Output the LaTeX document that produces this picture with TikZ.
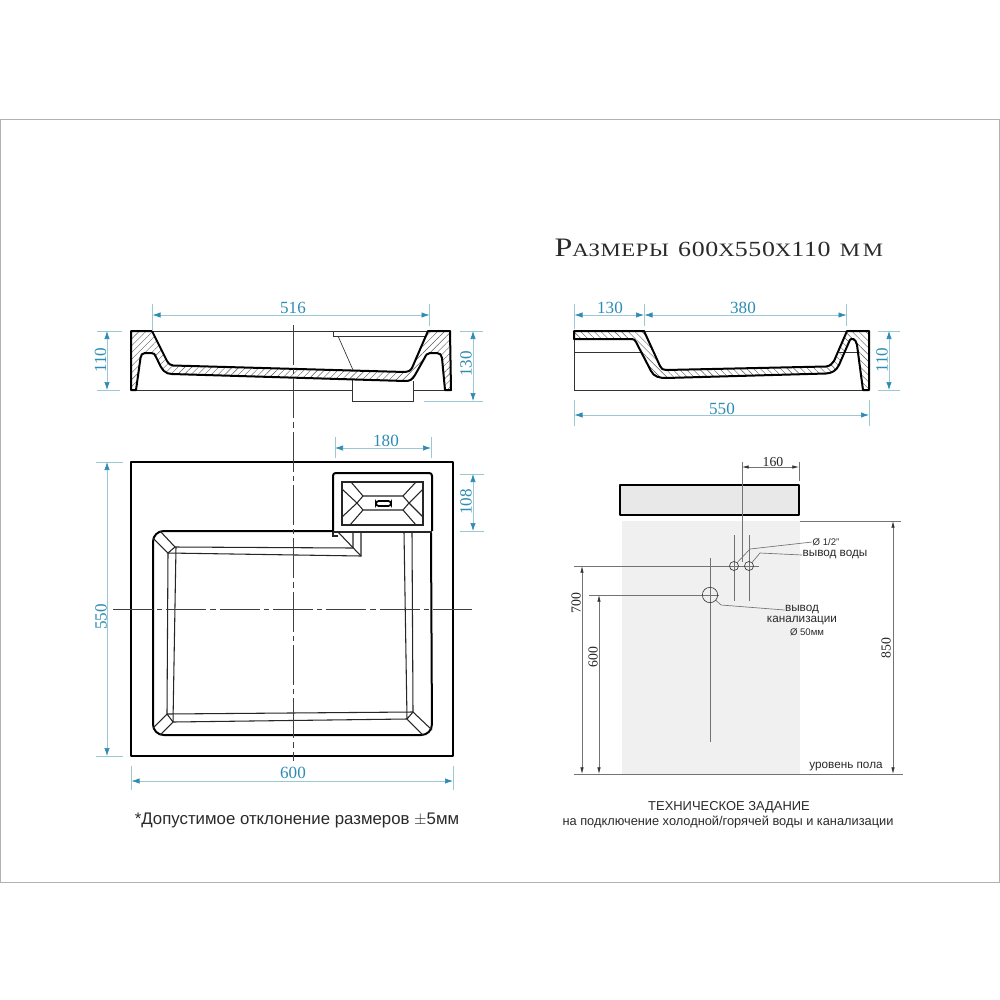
\documentclass[tikz,border=0pt]{standalone}
\usepackage{fontspec}
\setmainfont{Liberation Sans}
\newfontfamily\dimfont{Liberation Serif}
\newfontfamily\titlefont[LetterSpace=3,FakeStretch=1.2]{Liberation Serif}
\usetikzlibrary{arrows.meta,patterns.meta}
\definecolor{dimblue}{HTML}{2E8CB4}
\definecolor{dimline}{HTML}{9CC8D4}
\definecolor{wallgray}{HTML}{F0F0F0}
\definecolor{slabgray}{HTML}{E8E8E8}
\definecolor{textgray}{HTML}{2A2A2A}
\newcommand{\ttlcap}[1]{{\fontsize{20}{20}\selectfont #1}}
\newcommand{\ttlnum}[1]{{\fontsize{16.2}{20}\selectfont #1}}
\newcommand{\ttlsmall}[1]{{\fontsize{14.2}{20}\selectfont #1}}
\tikzset{every picture/.style={line width=0.75pt},
  heavy/.style={line width=1.5pt,black,line join=round},
  medium/.style={line width=0.8pt,black!85},
  thinline/.style={line width=0.5pt,black!80},
  axisline/.style={line width=0.5pt,black!75,dash pattern=on 30pt off 3pt on 4pt off 3pt},
  hatchright/.style={pattern={Lines[angle=45,distance=3.6pt,line width=0.3pt]},pattern color=black!65},
  hatchleft/.style={pattern={Lines[angle=-45,distance=3.6pt,line width=0.3pt]},pattern color=black!65},
  dimarrow/.style={line width=0.5pt,dimline,{Latex[length=6pt,width=4pt,color=dimblue]}-{Latex[length=6pt,width=4pt,color=dimblue]}},
  extline/.style={line width=0.5pt,dimline},
  dimlabel/.style={text=dimblue,font=\dimfont\fontsize{12.8}{14}\selectfont,inner sep=0pt},
  grayarrow/.style={line width=0.5pt,black!55,{Latex[length=5pt,width=2.6pt,color=black!80]}-{Latex[length=5pt,width=2.6pt,color=black!80]}},
  grayline/.style={line width=0.5pt,black!55},
  graylabel/.style={font=\dimfont\fontsize{10.3}{11}\selectfont,text=black!85,inner sep=0pt},
  note/.style={text=textgray,inner sep=0pt,align=center}}

\begin{document}
\begin{tikzpicture}[x=0.75pt,y=0.75pt,yscale=-1,xscale=1]
\useasboundingbox (0,0) rectangle (1000,1000);
\fill[white] (0,0) rectangle (1000,1000);
% frame
\draw[black!30,line width=0.75pt] (0.5,119.5) rectangle (999.5,882);

% title
\node[note,anchor=base west,font=\titlefont] (title) at (554,256) {\ttlcap{Р}\ttlsmall{АЗМЕРЫ}\hspace{7pt}\ttlnum{600}\ttlsmall{Х}\ttlnum{550}\ttlsmall{Х}\ttlnum{110}\hspace{7pt}\ttlsmall{М}\hspace{2pt}\ttlsmall{М}};

% left section
\draw[thinline] (152,331) -- (428,331);
\draw[thinline] (136,390) -- (352,390) (413,390) -- (445,390);
\draw[thinline] (352,380) -- (352,401) -- (413,401) -- (413,381);
\draw[thinline] (333,331) -- (333,336) -- (425,336);
\draw[thinline] (338,336) -- (353,370);
\draw[heavy,hatchright] (131,331) -- (152,331) -- (167,361) .. controls (169,364) and (170,365) .. (173,365.5) -- (405,372) .. controls (408,372) and (410,371) .. (412,368) -- (428,331) -- (450,331) -- (451,390) -- (445,390) -- (442,358) .. controls (441.5,355) and (440,353) .. (437,353) -- (430,353) .. controls (427,353) and (426,355) .. (424,359) -- (415,375) .. controls (412,380) and (410,381) .. (405,381) -- (172,374) .. controls (165,374) and (162,370) .. (158,361) -- (156,357) .. controls (155,354) and (154,353) .. (151,353) -- (145,353) .. controls (142,353) and (141,355) .. (140.5,358) -- (136,390) -- (131,390) -- cycle;

% right section
\draw[thinline] (574,339) -- (574,390) -- (863,390);
\draw[thinline] (574,331) -- (574,339);
\draw[thinline] (574,352) -- (641,352) (839,352) -- (857,352);
\draw[thinline] (644,331) -- (847,331);
\draw[heavy,hatchleft] (574,331) -- (644,331) -- (660,366) .. controls (661.5,369) and (663,370) .. (666,370) -- (826,366.5) .. controls (830,366) and (832,364) .. (834,361) -- (847,331) -- (869,331) -- (869,390) -- (863,390) -- (857,345) .. controls (856,339) and (851,336) .. (849,342) -- (839,365) .. controls (836,371) and (832,373) .. (826,373.5) -- (666,378) .. controls (660,378) and (654,377) .. (651,371) -- (636,342) .. controls (635,340) and (634,339) .. (632,339) -- (574,339) -- cycle;

% plan view
\draw[heavy] (131,462) rectangle (453,756);
\draw[heavy,rounded corners=8] (333,531) -- (153,531) -- (153,735) -- (432,735) -- (431,533);
\draw[medium] (160,531) -- (175,547) -- (353,548) -- (353,532);
\draw[medium] (153,538) -- (168,553) -- (361,556) -- (361,532);
\draw[medium] (175,547) -- (168,553);
\draw[medium] (338,532) -- (361,556);
\draw[medium] (333,532) -- (333,536) -- (338,536);
\draw[medium] (168,553) -- (167,714) -- (413,712) -- (412,532);
\draw[medium] (176,547) -- (173,722) -- (407,719) -- (404,532);
\draw[medium] (167,714) -- (173,722);
\draw[medium] (413,712) -- (407,719);
\draw[medium] (153,728) -- (167,714);
\draw[medium] (160,735) -- (173,722);
\draw[medium] (432,730) -- (413,712);
\draw[medium] (423,735) -- (407,719);
% drain box
\draw[heavy,rounded corners=2] (333,531) -- (333,473) -- (432,473) -- (432,531);
\draw[medium] (333,532) -- (432,532);
\draw[medium] (342,482) rectangle (423,525);
\draw[medium] (363,496) -- (403,496) -- (409,503) -- (403,510) -- (363,510) -- (357,503) -- cycle;
\draw[medium] (351,482) -- (363,496);
\draw[medium] (342,489) -- (357,503) -- (342,517);
\draw[medium] (363,510) -- (350,525);
\draw[medium] (416,482) -- (403,496);
\draw[medium] (423,489) -- (409,503) -- (423,517);
\draw[medium] (403,510) -- (416,525);
\draw[line width=1.3pt,rounded corners=2] (376,501) rectangle (391,506);

% axes
\draw[axisline] (293,325) -- (293,761);
\draw[axisline] (113,609) -- (472,609);

% blue dimensions
\coordinate (a516) at (152.5,315); \coordinate (b516) at (429.5,315);
\draw[extline] (152.5,304) -- (152.5,331) (429.5,304) -- (429.5,326);
\draw[dimarrow] (a516) -- (b516);
\node[dimlabel] (d516) at (293,308) {516};
\coordinate (a110l) at (107,331); \coordinate (b110l) at (107,390);
\draw[extline] (97,331) -- (122,331) (97,390) -- (120,390);
\draw[dimarrow] (a110l) -- (b110l);
\node[dimlabel,rotate=90] (d110l) at (100.5,360) {110};
\coordinate (a130r) at (473,331); \coordinate (b130r) at (473,401);
\draw[extline] (460,331) -- (483,331) (424,401) -- (483,401);
\draw[dimarrow] (a130r) -- (b130r);
\node[dimlabel,rotate=90] (d130r) at (466,364) {130};
\coordinate (a130) at (574.5,315); \coordinate (b130) at (644,315);
\draw[extline] (574.5,304) -- (574.5,329) (644.5,304) -- (644.5,326) (846.5,304) -- (846.5,326);
\draw[dimarrow] (a130) -- (b130);
\node[dimlabel] (d130) at (610,308) {130};
\coordinate (a380) at (644.5,315); \coordinate (b380) at (846.5,315);
\draw[dimarrow] (a380) -- (b380);
\node[dimlabel] (d380) at (743,308) {380};
\coordinate (a550) at (574.5,415); \coordinate (b550) at (869,415);
\draw[extline] (574.5,400) -- (574.5,426) (869,400) -- (869,426);
\draw[dimarrow] (a550) -- (b550);
\node[dimlabel] (d550) at (722,409) {550};
\coordinate (a110r) at (889,331); \coordinate (b110r) at (889,390);
\draw[extline] (878,331) -- (900,331) (878,390) -- (900,390);
\draw[dimarrow] (a110r) -- (b110r);
\node[dimlabel,rotate=90] (d110r) at (882,360) {110};
\coordinate (a180) at (335,448); \coordinate (b180) at (431,448);
\draw[extline] (335,437) -- (335,458) (431,437) -- (431,458);
\draw[dimarrow] (a180) -- (b180);
\node[dimlabel] (d180) at (386,441) {180};
\coordinate (a108) at (473,474); \coordinate (b108) at (473,531);
\draw[extline] (460,474) -- (484,474) (460,531) -- (484,531);
\draw[dimarrow] (a108) -- (b108);
\node[dimlabel,rotate=90] (d108) at (466,502) {108};
\coordinate (a550p) at (107,462); \coordinate (b550p) at (107,756);
\draw[extline] (96,462) -- (123,462) (96,756) -- (123,756);
\draw[dimarrow] (a550p) -- (b550p);
\node[dimlabel,rotate=90] (d550p) at (101,617) {550};
\coordinate (a600) at (131.5,781); \coordinate (b600) at (453,781);
\draw[extline] (131.5,766) -- (131.5,790) (453,766) -- (453,790);
\draw[dimarrow] (a600) -- (b600);
\node[dimlabel] (d600) at (293,773) {600};

% note
\node[note,font=\fontsize{12.6}{14}\selectfont] (tolerance) at (297,820) {*Допустимое отклонение размеров $\pm$5мм};

% installation drawing
\fill[wallgray] (622,521) rectangle (800,774);
\draw[heavy,fill=slabgray] (620,485) rectangle (799,515);
\draw[grayline] (574,774) -- (903,774);
\draw[grayline] (800,521) -- (901,521);
\draw[grayline] (574,566) -- (759,566);
\draw[grayline] (589,595) -- (719,595);
\draw[grayline] (734,535) -- (734,601) (749,535) -- (749,601);
\draw[grayline] (710,558) -- (710,742);
\draw[grayline] (742,462) -- (742,562);
\draw[grayline] (799,462) -- (799,481);
\node[draw=black!75,line width=0.5pt,circle,minimum size=6.8pt,inner sep=0pt] (pipea) at (734,566) {};
\node[draw=black!75,line width=0.5pt,circle,minimum size=6.8pt,inner sep=0pt] (pipeb) at (749,566) {};
\node[draw=black!75,line width=0.5pt,circle,minimum size=11.5pt,inner sep=0pt] (drain) at (710,595) {};

\coordinate (a160) at (742,467); \coordinate (b160) at (799,467);
\draw[grayarrow] (a160) -- (b160);
\node[graylabel] (d160) at (773,462) {160};
\coordinate (a850) at (893,521); \coordinate (b850) at (893,774);
\draw[grayarrow] (a850) -- (b850);
\node[graylabel,rotate=90] (d850) at (886,648) {850};
\coordinate (a700) at (582,566); \coordinate (b700) at (582,774);
\draw[grayarrow] (a700) -- (b700);
\node[graylabel,rotate=90] (d700) at (576,603) {700};
\coordinate (a600w) at (599,595); \coordinate (b600w) at (599,774);
\draw[grayarrow] (a600w) -- (b600w);
\node[graylabel,rotate=90] (d600w) at (593,657) {600};

\node[note,font=\fontsize{7.2}{8}\selectfont] (sizewater) at (826,542) {Ø 1/2"};
\node[note,font=\fontsize{8.8}{9}\selectfont] (water) at (835,555) {вывод воды};
\node[note,font=\fontsize{8.8}{9}\selectfont] (sewer) at (802,610) {вывод};
\node[note,font=\fontsize{8.8}{9}\selectfont] (sewerb) at (802,620.5) {канализации};
\node[note,font=\fontsize{7.2}{8}\selectfont] (sizesewer) at (807,632) {Ø 50мм};
\node[note,font=\fontsize{8.8}{9}\selectfont] (floor) at (846,767) {уровень пола};

\draw[grayline] (pipea) -- (750,549) -- (sizewater.west);
\draw[grayline] (pipeb) -- (760,553) -- (water.west);
\draw[grayline] (drain) -- (721,605) -- (sewer.west);

\node[note,font=\fontsize{9.7}{11}\selectfont] (spectitle) at (729,807) {ТЕХНИЧЕСКОЕ ЗАДАНИЕ};
\node[note,font=\fontsize{9.6}{11}\selectfont] (specline) at (728,822) {на подключение холодной/горячей воды и канализации};
\end{tikzpicture}
\end{document}
